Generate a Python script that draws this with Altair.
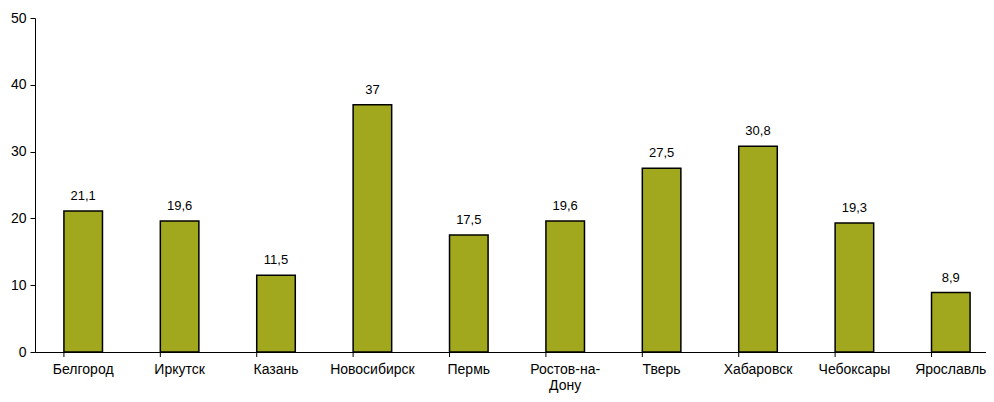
import altair as alt
import pandas as pd

cities = ["Белгород", "Иркутск", "Казань", "Новосибирск", "Пермь",
          "Ростов-на-Дону", "Тверь", "Хабаровск", "Чебоксары", "Ярославль"]
values = [21.1, 19.6, 11.5, 37, 17.5, 19.6, 27.5, 30.8, 19.3, 8.9]

df = pd.DataFrame({"city": cities, "value": values})

FONT = "Liberation Sans"

xscale = alt.Scale(domain=cities, range=[0, 964], paddingInner=0.6, paddingOuter=0.3)
yscale = alt.Scale(domain=[0, 50])

base = alt.Chart(df)

bars = base.mark_bar(color="#A2A81E", stroke="black", strokeWidth=1.5).encode(
    x=alt.X("city:N", sort=cities, scale=xscale, title=None,
            axis=alt.Axis(labelAngle=0, ticks=False, domain=True, domainColor="black",
                          labelFont=FONT, labelFontSize=14, labelColor="black",
                          labelPadding=10, labelLineHeight=16,
                          labelExpr="datum.label == 'Ростов-на-Дону' ? ['Ростов-на-', 'Дону'] : datum.label")),
    y=alt.Y("value:Q", scale=yscale, title=None,
            axis=alt.Axis(values=[0, 10, 20, 30, 40, 50], grid=False, domainColor="black",
                          tickColor="black", tickSize=5, labelFont=FONT, labelFontSize=14,
                          labelColor="black", labelPadding=4)),
)

text = base.transform_calculate(
    lbl="replace(toString(datum.value), '.', ',')"
).mark_text(font=FONT, fontSize=13, color="black", baseline="bottom", dy=-8).encode(
    x=alt.X("city:N", sort=cities, scale=xscale),
    y=alt.Y("value:Q", scale=yscale),
    text="lbl:N",
)

ticks = base.mark_rule(color="black", strokeWidth=1).encode(
    x=alt.X("city:N", sort=cities, scale=xscale, bandPosition=0),
    y=alt.value(334),
    y2=alt.value(339),
)

chart = alt.layer(bars, ticks, text).properties(
    width=951, height=334,
    autosize=alt.AutoSizeParams(type="none"),
    padding={"left": 27, "top": 10, "right": 0, "bottom": 42},
    background="white",
).configure_view(stroke=None)

chart.save("out.html", embed_options={"renderer": "svg", "actions": False})
